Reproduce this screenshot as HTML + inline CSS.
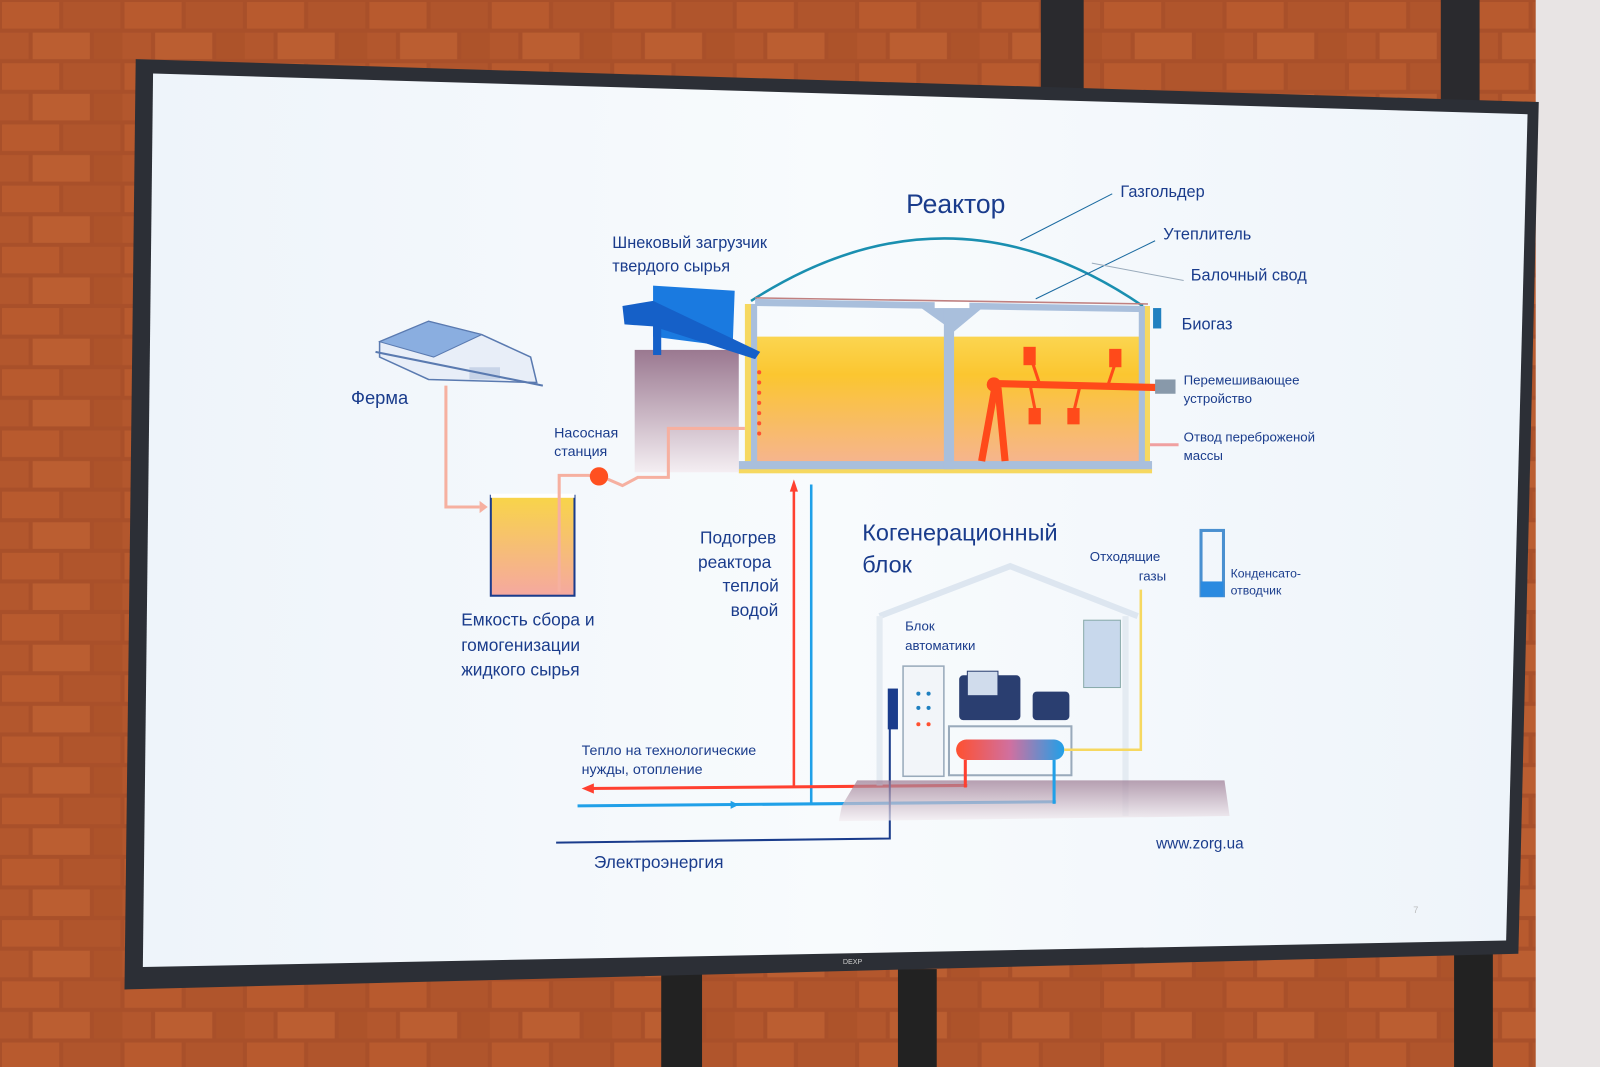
<!DOCTYPE html>
<html><head><meta charset="utf-8"><style>
html,body{margin:0;padding:0;width:1600px;height:1067px;overflow:hidden;background:#b5532a}
svg{display:block}
text{font-family:"Liberation Sans","DejaVu Sans",sans-serif;fill:#1a3c8c}
</style></head><body>
<svg width="1600" height="1067" viewBox="0 0 1568 1046" preserveAspectRatio="none">
<defs>
<linearGradient id="liq" x1="0" y1="0" x2="0" y2="1">
<stop offset="0" stop-color="#fbd550"/><stop offset="0.3" stop-color="#fbc630"/><stop offset="1" stop-color="#f6b490"/></linearGradient>
<linearGradient id="tank" x1="0" y1="0" x2="0" y2="1">
<stop offset="0" stop-color="#f8d548"/><stop offset="1" stop-color="#f5a8a0"/></linearGradient>
<linearGradient id="wall" x1="0" y1="0" x2="0" y2="1">
<stop offset="0" stop-color="#9a7890"/><stop offset="1" stop-color="#f4eef2"/></linearGradient>
<linearGradient id="hx" x1="0" y1="0" x2="1" y2="0">
<stop offset="0" stop-color="#ff5030"/><stop offset="0.5" stop-color="#d070a0"/><stop offset="1" stop-color="#20a0e8"/></linearGradient>
<linearGradient id="scr" x1="0" y1="0" x2="1" y2="0">
<stop offset="0" stop-color="#eef4fa"/><stop offset="0.5" stop-color="#f8fbfd"/><stop offset="1" stop-color="#eef4fa"/></linearGradient>
<pattern id="bp" width="120" height="60" patternUnits="userSpaceOnUse">
<rect width="120" height="60" fill="#a9502a"/>
<rect x="2" y="2" width="56" height="26" fill="#b85a2e"/><rect x="62" y="2" width="56" height="26" fill="#b0552c"/>
<rect x="-28" y="32" width="56" height="26" fill="#b3572d"/><rect x="32" y="32" width="56" height="26" fill="#bb5e31"/><rect x="92" y="32" width="56" height="26" fill="#ad532a"/>
</pattern>
</defs>
<rect width="1568" height="1046" fill="url(#bp)"/>
<rect x="1505" y="0" width="63" height="1046" fill="#e8e4e4"/>
<rect x="1020" y="0" width="42" height="90" fill="#2a2a2e"/>
<rect x="1412" y="0" width="38" height="100" fill="#2a2a2e"/>
<rect x="648" y="955" width="40" height="91" fill="#222"/>
<rect x="880" y="950" width="38" height="96" fill="#222"/>
<rect x="1425" y="935" width="38" height="111" fill="#222"/>
<polygon points="133,58 1508,100 1488,935 122,970" fill="#2c2f36"/>
<polygon points="150,72 1497,112 1476,922 140,948" fill="url(#scr)"/>
<text x="826" y="945" font-size="7" style="fill:#ccc">DEXP</text>

<path d="M736,295 Q930,170 1120,300" fill="none" stroke="#1a8fb0" stroke-width="2.5"/>
<text x="888" y="209" font-size="26">Реактор</text>
<text x="1098" y="193" font-size="16">Газгольдер</text>
<text x="1140" y="235" font-size="16">Утеплитель</text>
<text x="1167" y="275" font-size="16">Балочный свод</text>
<text x="1158" y="323" font-size="16">Биогаз</text>
<text x="1160" y="377" font-size="13">Перемешивающее</text>
<text x="1160" y="395" font-size="13">устройство</text>
<text x="1160" y="433" font-size="13">Отвод переброженой</text>
<text x="1160" y="451" font-size="13">массы</text>
<line x1="1000" y1="236" x2="1090" y2="190" stroke="#1a6aa0" stroke-width="1"/>
<line x1="1015" y1="293" x2="1132" y2="236" stroke="#1a6aa0" stroke-width="1"/>
<line x1="1070" y1="258" x2="1160" y2="275" stroke="#9ab" stroke-width="1"/>

<rect x="740" y="330" width="385" height="125" fill="url(#liq)"/>
<polygon points="740,293 1125,300 1125,306 740,300" fill="#a9bfdc"/>
<line x1="740" y1="292" x2="1125" y2="298" stroke="#c08080" stroke-width="1.5"/>
<rect x="730" y="298" width="8" height="160" fill="#f6d860"/>
<rect x="736" y="298" width="6" height="158" fill="#a9bfdc"/>
<rect x="1116" y="300" width="8" height="158" fill="#a9bfdc"/>
<rect x="1122" y="300" width="5" height="160" fill="#f6d860"/>
<rect x="724" y="452" width="405" height="10" fill="#a9bfdc"/>
<rect x="724" y="460" width="405" height="4" fill="#f6d860"/>
<polygon points="900,300 965,300 935,325" fill="#a9bfdc"/>
<rect x="925" y="300" width="10" height="160" fill="#a9bfdc"/>
<rect x="916" y="296" width="34" height="6" fill="#fff"/>
<g stroke="#ff4a1a" stroke-width="7" fill="#ff4a1a">
<line x1="975" y1="376" x2="1140" y2="380"/>
<line x1="975" y1="380" x2="962" y2="452"/><line x1="978" y1="380" x2="985" y2="452"/>
<line x1="1010" y1="350" x2="1020" y2="380" stroke-width="3"/><line x1="1095" y1="350" x2="1085" y2="380" stroke-width="3"/>
<line x1="1010" y1="380" x2="1015" y2="405" stroke-width="3"/><line x1="1058" y1="380" x2="1052" y2="405" stroke-width="3"/>
</g>
<circle cx="974" cy="377" r="7" fill="#ff4a1a"/>
<rect x="1003" y="340" width="12" height="18" fill="#ff4a1a"/>
<rect x="1087" y="342" width="12" height="18" fill="#ff4a1a"/>
<rect x="1008" y="400" width="12" height="16" fill="#ff4a1a"/>
<rect x="1046" y="400" width="12" height="16" fill="#ff4a1a"/>
<rect x="1132" y="372" width="20" height="14" fill="#8899aa"/>
<line x1="1127" y1="436" x2="1155" y2="436" stroke="#f0a0a0" stroke-width="3"/>
<g fill="#ff5030"><circle cx="744" cy="365" r="2"/><circle cx="744" cy="375" r="2"/><circle cx="744" cy="385" r="2"/><circle cx="744" cy="395" r="2"/><circle cx="744" cy="405" r="2"/><circle cx="744" cy="415" r="2"/><circle cx="744" cy="425" r="2"/></g>
<rect x="1130" y="302" width="8" height="20" fill="#2080c0"/>

<rect x="622" y="343" width="102" height="120" fill="url(#wall)"/>
<polygon points="640,280 720,285 718,340 640,330" fill="#1a7ae0"/>
<polygon points="610,300 640,295 745,345 740,352 640,320 612,318" fill="#1560c8"/>
<rect x="640" y="320" width="8" height="28" fill="#1560c8"/>
<text x="600" y="243" font-size="16">Шнековый загрузчик</text>
<text x="600" y="266" font-size="16">твердого сырья</text>

<polygon points="372,335 420,315 472,328 520,350 526,375 420,372 372,350" fill="#e8eef8" stroke="#5a7ab0" stroke-width="1.5"/>
<polygon points="372,335 420,315 472,328 425,350" fill="#8aaee0" stroke="#5a7ab0"/>
<rect x="460" y="360" width="30" height="12" fill="#c8d4e8"/>
<line x1="368" y1="345" x2="532" y2="378" stroke="#5a7ab0" stroke-width="2"/>
<text x="344" y="396" font-size="18">Ферма</text>
<polyline points="437,378 437,497 470,497" fill="none" stroke="#f6b0a0" stroke-width="3"/>
<polygon points="470,491 478,497 470,503" fill="#f6b0a0"/>

<rect x="481" y="486" width="82" height="98" fill="url(#tank)" stroke="#1a3c8c" stroke-width="2"/>
<rect x="481" y="484" width="82" height="4" fill="#fff"/>
<polyline points="548,580 548,466 587,466 610,476 625,468 655,468 655,420 730,420" fill="none" stroke="#f6b0a0" stroke-width="3"/>
<circle cx="587" cy="467" r="9" fill="#ff5020"/>
<text x="543" y="429" font-size="14">Насосная</text>
<text x="543" y="447" font-size="14">станция</text>
<text x="452" y="613" font-size="17">Емкость сбора и</text>
<text x="452" y="638" font-size="17">гомогенизации</text>
<text x="452" y="662" font-size="17">жидкого сырья</text>

<line x1="778" y1="475" x2="778" y2="772" stroke="#ff4030" stroke-width="2.5"/>
<polygon points="774,482 778,470 782,482" fill="#ff4030"/>
<line x1="795" y1="475" x2="795" y2="788" stroke="#20a0e8" stroke-width="2.5"/>
<line x1="575" y1="773" x2="948" y2="770" stroke="#ff4030" stroke-width="3"/>
<polygon points="582,768 570,773 582,778" fill="#ff4030"/>
<line x1="566" y1="790" x2="1035" y2="786" stroke="#20a0e8" stroke-width="3"/>
<polygon points="716,785 724,789 716,793" fill="#20a0e8"/>
<polyline points="545,826 872,822 872,690" fill="none" stroke="#1a3c8c" stroke-width="2"/>
<text x="686" y="533" font-size="17">Подогрев</text>
<text x="684" y="557" font-size="17">реактора</text>
<text x="708" y="580" font-size="17">теплой</text>
<text x="716" y="604" font-size="17">водой</text>
<text x="570" y="740" font-size="14">Тепло на технологические</text>
<text x="570" y="759" font-size="14">нужды, отопление</text>
<text x="582" y="851" font-size="17">Электроэнергия</text>
<text x="1133" y="832" font-size="15">www.zorg.ua</text>

<text x="845" y="530" font-size="23">Когенерационный</text>
<text x="845" y="561" font-size="23">блок</text>
<polyline points="862,604 990,555 1115,604" fill="none" stroke="#dde6f0" stroke-width="6"/>
<line x1="862" y1="604" x2="862" y2="770" stroke="#e4ebf2" stroke-width="6"/>
<line x1="1103" y1="604" x2="1103" y2="800" stroke="#e4ebf2" stroke-width="6"/>
<polygon points="825,790 840,765 1200,765 1205,800 822,805" fill="url(#wall)" opacity="0.7"/>
<rect x="1062" y="608" width="36" height="66" fill="#c8d8ec" stroke="#8aa" />
<text x="887" y="618" font-size="13">Блок</text>
<text x="887" y="637" font-size="13">автоматики</text>
<rect x="885" y="653" width="40" height="108" fill="#f2f5f9" stroke="#9ab" stroke-width="1.5"/>
<rect x="870" y="675" width="10" height="40" fill="#1a3c8c"/>
<g fill="#2080c0"><circle cx="900" cy="680" r="2"/><circle cx="910" cy="680" r="2"/><circle cx="900" cy="694" r="2"/><circle cx="910" cy="694" r="2"/></g>
<g fill="#ff5030"><circle cx="900" cy="710" r="2"/><circle cx="910" cy="710" r="2"/></g>
<rect x="940" y="662" width="60" height="44" rx="4" fill="#2a3e70"/>
<rect x="948" y="658" width="30" height="24" fill="#d0dcec" stroke="#2a3e70"/>
<rect x="1012" y="678" width="36" height="28" rx="4" fill="#2a3e70"/>
<rect x="930" y="712" width="120" height="48" fill="none" stroke="#9ab" stroke-width="2"/>
<rect x="937" y="725" width="106" height="20" rx="10" fill="url(#hx)"/>
<line x1="946" y1="745" x2="946" y2="772" stroke="#ff4030" stroke-width="3"/>
<line x1="1033" y1="745" x2="1033" y2="788" stroke="#20a0e8" stroke-width="3"/>
<polyline points="1043,735 1118,735 1118,578" fill="none" stroke="#f6d860" stroke-width="2.5"/>
<text x="1068" y="550" font-size="13">Отходящие</text>
<text x="1116" y="569" font-size="13">газы</text>
<rect x="1177" y="520" width="22" height="64" fill="none" stroke="#4a90d0" stroke-width="3"/>
<rect x="1177" y="570" width="22" height="15" fill="#2a8ae0"/>
<text x="1206" y="566" font-size="12">Конденсато-</text>
<text x="1206" y="583" font-size="12">отводчик</text>
<text x="1385" y="895" font-size="9" style="fill:#bbb">7</text>
</svg>
</body></html>
